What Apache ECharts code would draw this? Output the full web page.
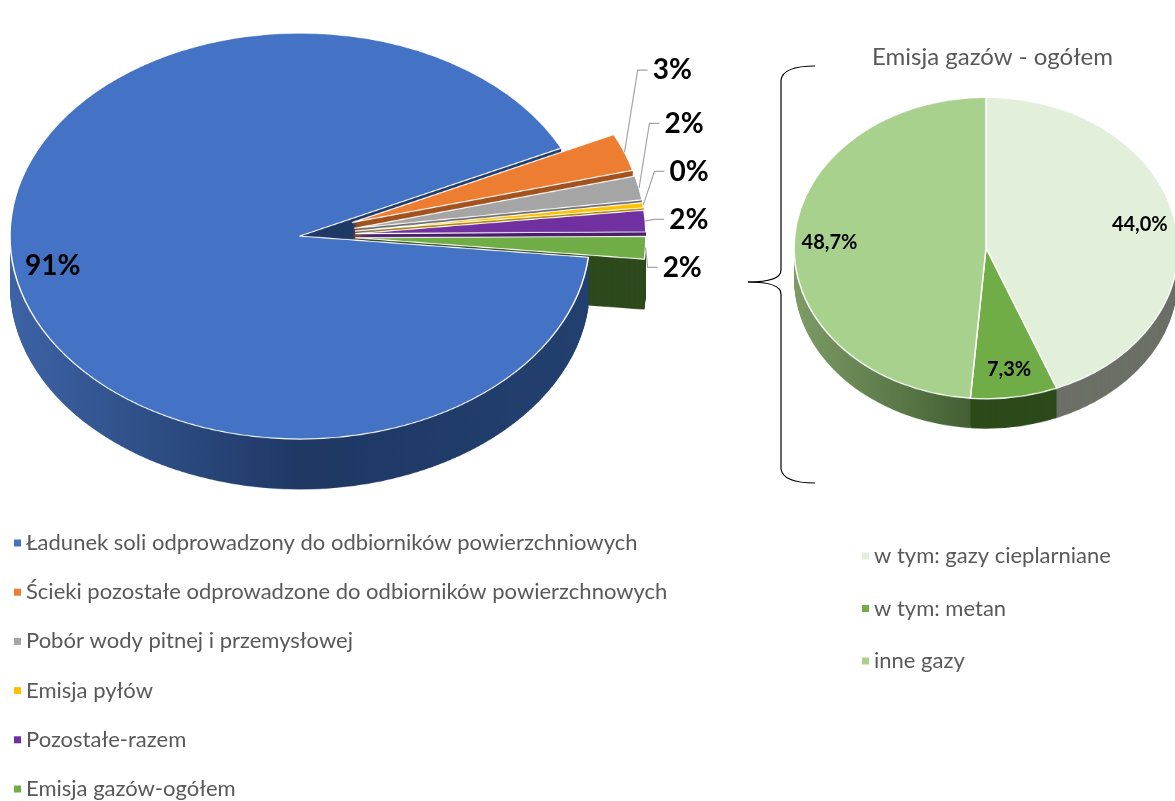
<!DOCTYPE html>
<html>
<head>
<meta charset="UTF-8">
<title>pie</title>
<script src="https://cdn.jsdelivr.net/npm/echarts@6/dist/echarts.min.js"></script>
<style>
*{margin:0;padding:0}
html,body{width:1175px;height:801px;background:#fff;overflow:hidden}
#pieL,#pieR{position:absolute;left:0;top:0;width:1175px;transform-origin:0 0}
#pieL{height:760px;transform:scaleY(0.7)}
#pieR{height:560px;transform:scaleY(0.785)}
#main{position:absolute;left:0;top:0;width:1175px;height:801px}
</style>
</head>
<body>
<div id="pieL"></div>
<div id="pieR"></div>
<div id="main"></div>
<script>
// dane
var leftNames = [
    'Ładunek soli odprowadzony do odbiorników powierzchniowych',
    'Ścieki pozostałe odprowadzone do odbiorników powierzchnowych',
    'Pobór wody pitnej i przemysłowej',
    'Emisja pyłów',
    'Pozostałe-razem',
    'Emisja gazów-ogółem'
];
var leftValues = [91.2, 3.0, 1.9, 0.4, 1.7, 1.8];
var rightTitle = 'Emisja gazów - ogółem';
var rightNames = ['w tym: gazy cieplarniane', 'w tym: metan', 'inne gazy'];
var rightValues = [44.0, 7.3, 48.7];

// kolory
var leftColors = ['#4472c4', '#ed7d31', '#a5a5a5', '#ffc000', '#7030a0', '#70ad47'];
var leftSide = [
    new echarts.graphic.LinearGradient(0, 0, 1, 0, [
        {offset: 0, color: '#3d63a6'}, {offset: 0.5, color: '#1f3864'}, {offset: 1, color: '#22406f'}]),
    '#a3531f', '#6f6f6f', '#b38600', '#4b1f6d', '#2e4a1c'
];
var rightColors = ['#e2efda', '#70ad47', '#a9d18e'];
var rightSide = [
    '#6c7067', '#2d4a1a',
    new echarts.graphic.LinearGradient(0, 0, 1, 0, [
        {offset: 0, color: '#7d9c66'}, {offset: 1, color: '#3e5a2f'}])
];

var FONT = 'Lato';
// geometria (cy w pikselach ekranu, s = spłaszczenie elipsy, labelCy = środek dla etykiet)
var geoL = {cx: 300, cy: 236, r: 290, s: 0.7, depth: 72, start: 354, offset: 56, explodeFrom: 1, labelCy: 195};
var geoR = {cx: 986, cy: 248, r: 192, s: 0.785, depth: 38, start: 90, offset: 0, explodeFrom: 99, labelCy: 248};

function items(names, values, colors, g) {
    return names.map(function (n, i) {
        return {name: n, value: values[i], selected: i >= g.explodeFrom, itemStyle: {color: colors[i]}};
    });
}

// bryła 3D: warstwy boczne + wierzch
function solid(names, values, colors, sides, g) {
    var list = [];
    var cyU = g.cy / g.s;
    var base = {
        type: 'pie', silent: true, animation: false, radius: g.r, startAngle: g.start,
        selectedMode: 'multiple', selectedOffset: g.offset,
        label: {show: false}, labelLine: {show: false}, emphasis: {disabled: true}
    };
    for (var k = g.depth; k >= 1; k--) {
        list.push(Object.assign({}, base, {
            center: [g.cx, cyU + k], itemStyle: {borderWidth: 0},
            data: items(names, values, sides, g)
        }));
    }
    list.push(Object.assign({}, base, {
        center: [g.cx, cyU], itemStyle: {borderColor: '#fff', borderWidth: 1.5},
        data: items(names, values, colors, g)
    }));
    return list;
}

echarts.init(document.getElementById('pieL')).setOption({
    series: solid(leftNames, leftValues, leftColors, leftSide, geoL)
});
echarts.init(document.getElementById('pieR')).setOption({
    series: solid(rightNames, rightValues, rightColors, rightSide, geoR)
});

// etykiety: punkty na krawędzi i etykiety wewnętrzne przeniesione na elipsę
function squash(g, inside) {
    return function (p) {
        if (inside.indexOf(p.dataIndex) < 0 && p.labelLinePoints) {
            var pts = p.labelLinePoints.map(function (pt) { return pt.slice(); });
            pts[0][1] = g.cy + (pts[0][1] - g.labelCy) * g.s;
            return {labelLinePoints: pts};
        }
        var mid = p.labelRect.y + p.labelRect.height / 2;
        return {y: g.cy + (mid - g.labelCy) * g.s, verticalAlign: 'middle'};
    };
}

var legendText = {fontFamily: FONT, fontSize: 22, color: '#595959', lineHeight: 24};
var chart = echarts.init(document.getElementById('main'));
chart.setOption({
    animation: false,
    title: {
        text: rightTitle, left: 872, top: 45, padding: 0,
        textStyle: {fontFamily: FONT, fontSize: 24, fontWeight: 'normal', color: '#595959'}
    },
    legend: [{
        orient: 'vertical', left: 14, top: 531, padding: 0, icon: 'rect', itemWidth: 7, itemHeight: 7,
        itemGap: 25.2, selectedMode: false,
        data: leftNames.map(function (n, i) { return {name: n, itemStyle: {color: leftColors[i]}}; }),
        textStyle: legendText
    }, {
        orient: 'vertical', left: 862, top: 544, padding: 0, icon: 'rect', itemWidth: 7, itemHeight: 7,
        itemGap: 28.5, selectedMode: false,
        data: rightNames.map(function (n, i) { return {name: n, itemStyle: {color: rightColors[i]}}; }),
        textStyle: legendText
    }],
    graphic: [{
        type: 'group', silent: true,
        children: [
            {type: 'bezierCurve', shape: {x1: 815, y1: 66, x2: 781, y2: 80, cpx1: 783, cpy1: 66}, style: {stroke: '#000', lineWidth: 1.2, fill: null}},
            {type: 'line', shape: {x1: 781, y1: 80, x2: 781, y2: 270}, style: {stroke: '#000', lineWidth: 1.2}},
            {type: 'bezierCurve', shape: {x1: 781, y1: 270, x2: 748, y2: 282, cpx1: 781, cpy1: 282}, style: {stroke: '#000', lineWidth: 1.2, fill: null}},
            {type: 'bezierCurve', shape: {x1: 748, y1: 282, x2: 781, y2: 294, cpx1: 781, cpy1: 282}, style: {stroke: '#000', lineWidth: 1.2, fill: null}},
            {type: 'line', shape: {x1: 781, y1: 294, x2: 781, y2: 469}, style: {stroke: '#000', lineWidth: 1.2}},
            {type: 'bezierCurve', shape: {x1: 781, y1: 469, x2: 815, y2: 483, cpx1: 783, cpy1: 483}, style: {stroke: '#000', lineWidth: 1.2, fill: null}}
        ]
    }],
    series: [{
        type: 'pie', silent: true, center: [geoL.cx, geoL.labelCy], radius: [150, geoL.r + geoL.offset],
        startAngle: geoL.start, itemStyle: {color: 'rgba(0,0,0,0)'}, avoidLabelOverlap: true,
        label: {
            show: true, position: 'outside', fontFamily: FONT, fontSize: 28, fontWeight: 'bold', color: '#000',
            lineHeight: 46,
            formatter: function (p) { return Math.round(p.percent) + '%'; }
        },
        labelLine: {show: true, length: 14, length2: 10, lineStyle: {color: '#a6a6a6', width: 1.2}},
        labelLayout: squash(geoL, [0]),
        data: leftNames.map(function (n, i) {
            return i === 0 ? {name: n, value: leftValues[i], label: {position: 'inside', lineHeight: 30}, labelLine: {show: false}}
                           : {name: n, value: leftValues[i]};
        })
    }, {
        type: 'pie', silent: true, center: [geoR.cx, geoR.labelCy], radius: [geoR.r * 0.6, geoR.r],
        startAngle: geoR.start, itemStyle: {color: 'rgba(0,0,0,0)'},
        label: {
            show: true, position: 'inside', fontFamily: FONT, fontSize: 20, fontWeight: 'bold', color: '#000',
            formatter: function (p) { return p.value.toFixed(1).replace('.', ',') + '%'; }
        },
        labelLine: {show: false},
        labelLayout: squash(geoR, [0, 1, 2]),
        data: rightNames.map(function (n, i) { return {name: n, value: rightValues[i]}; })
    }]
});
</script>
</body>
</html>
